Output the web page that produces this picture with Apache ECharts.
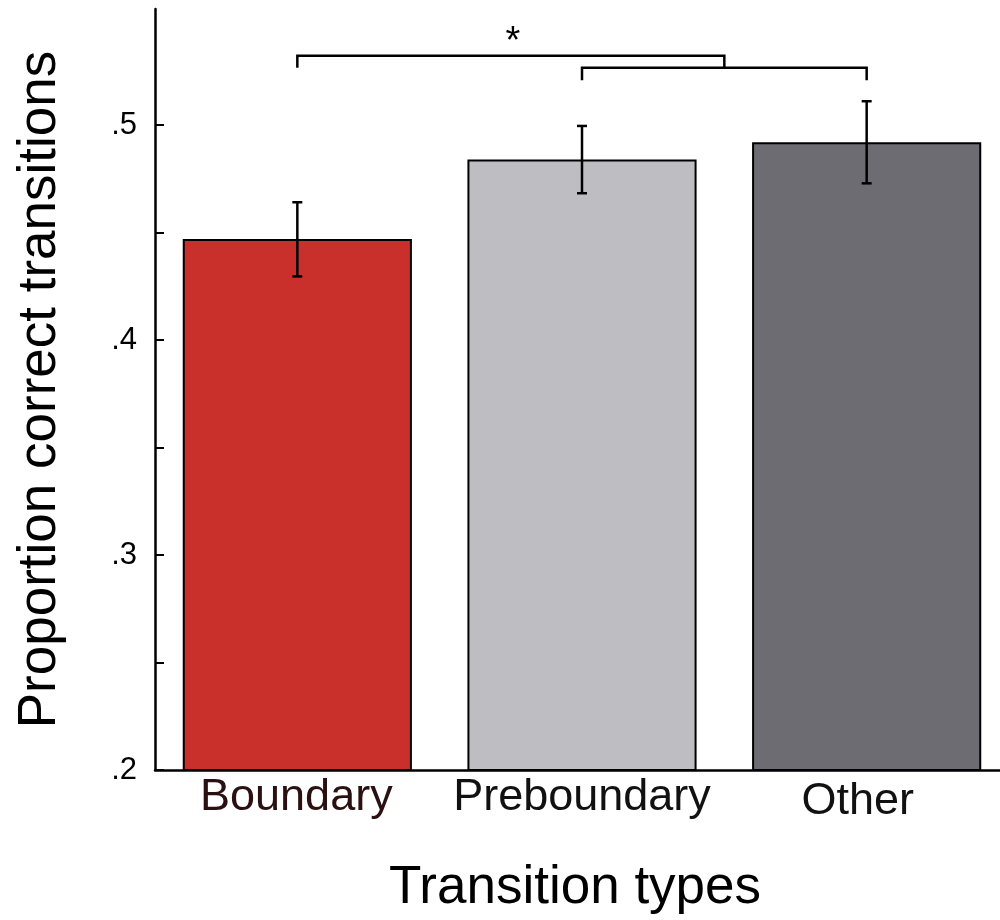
<!DOCTYPE html>
<html>
<head>
<meta charset="utf-8">
<script src="https://cdn.jsdelivr.net/npm/echarts@6/dist/echarts.min.js"></script>
<style>
html,body{margin:0;padding:0;background:#fff;overflow:hidden;}
#chart{width:1012px;height:920px;}
</style>
</head>
<body>
<div id="chart"></div>
<script>
// ---- data ----
const categories = ['Boundary', 'Preboundary', 'Other'];
const means = [0.447, 0.484, 0.492];
const errLow = [0.4296, 0.4683, 0.4729];
const errHigh = [0.4641, 0.4996, 0.5111];
const barColors = ['#c92f2b', '#bebdc2', '#6d6c72'];
const labelColors = ['#2a1010', '#111111', '#111111'];
const yTickValues = [0.2, 0.25, 0.3, 0.35, 0.4, 0.45, 0.5];
const yLabelValues = [0.2, 0.3, 0.4, 0.5];
// significance bracket levels (in data units)
const sigTop = 0.5322;
const sigMid = 0.5267;
const sigLeg = 0.5208;
const sigStar = 0.5415;
const sigText = '*';

const FONT = "'Liberation Sans', Arial, Helvetica, sans-serif";
// per-label padding (layout only)
const labelPads = [[0, 2, 0, 0], [0, 0, 0, 0], [4, 18, 0, 0]];

const chart = echarts.init(document.getElementById('chart'), null, {renderer: 'canvas'});

const option = {
  backgroundColor: '#ffffff',
  animation: false,
  grid: {left: 155, width: 854, top: 9, height: 769, containLabel: false},
  xAxis: {
    type: 'category',
    data: categories.map((c, i) => ({value: c, textStyle: {color: labelColors[i], padding: labelPads[i]}})),
    name: 'Transition types',
    nameLocation: 'middle',
    nameGap: 92,
    nameTextStyle: {fontFamily: FONT, fontSize: 53, color: '#000', padding: [0, 14, 0, 0]},
    axisLine: {show: true, lineStyle: {color: '#000', width: 2.5}},
    axisTick: {show: false},
    axisLabel: {
      interval: 0,
      margin: 5,
      fontFamily: FONT,
      fontSize: 45,
      color: '#111'
    },
    splitLine: {show: false}
  },
  yAxis: {
    type: 'value',
    min: 0.2,
    max: 0.554,
    name: 'Proportion correct transitions',
    nameLocation: 'middle',
    nameGap: 88,
    nameTextStyle: {fontFamily: FONT, fontSize: 53, color: '#000'},
    axisLine: {show: true, lineStyle: {color: '#000', width: 2.5}},
    axisTick: {show: true, inside: true, length: 9, lineStyle: {color: '#000', width: 2}, customValues: yTickValues},
    axisLabel: {
      margin: 18,
      fontFamily: FONT,
      fontSize: 31,
      color: '#000',
      customValues: yLabelValues,
      formatter: function (v) { return String(Math.round(v * 10) / 10).replace(/^0/, ''); }
    },
    splitLine: {show: false}
  },
  series: [
    {
      type: 'bar',
      barWidth: '80.5%',
      data: means.map((m, i) => ({
        value: m,
        itemStyle: {color: barColors[i], borderColor: '#000', borderWidth: 2}
      })),
      z: 2
    },
    {
      type: 'custom',
      z: 5,
      data: categories.map((c, i) => [i, errLow[i], errHigh[i]]),
      renderItem: function (params, api) {
        const lo = api.coord([api.value(0), api.value(1)]);
        const hi = api.coord([api.value(0), api.value(2)]);
        const hw = 5;
        const st = {stroke: '#000', lineWidth: 2.5};
        return {
          type: 'group',
          children: [
            {type: 'line', shape: {x1: hi[0], y1: hi[1], x2: lo[0], y2: lo[1]}, style: st},
            {type: 'line', shape: {x1: hi[0] - hw, y1: hi[1], x2: hi[0] + hw, y2: hi[1]}, style: st},
            {type: 'line', shape: {x1: lo[0] - hw, y1: lo[1], x2: lo[0] + hw, y2: lo[1]}, style: st}
          ]
        };
      }
    },
    {
      type: 'custom',
      z: 5,
      data: [[0, 1, 2]],
      renderItem: function (params, api) {
        const a = api.coord([api.value(0), sigTop]);
        const aLeg = api.coord([api.value(0), sigMid]);
        const b = api.coord([api.value(1), sigMid]);
        const bLeg = api.coord([api.value(1), sigLeg]);
        const c = api.coord([api.value(2), sigMid]);
        const cLeg = api.coord([api.value(2), sigLeg]);
        const midX = (b[0] + c[0]) / 2;
        const topY = a[1];
        const starPt = api.coord([api.value(0), sigStar]);
        const starX = (a[0] + midX) / 2 + 2;
        const st = {stroke: '#000', lineWidth: 2.5, fill: null};
        return {
          type: 'group',
          children: [
            {type: 'polyline', shape: {points: [[a[0], aLeg[1]], [a[0], topY], [midX, topY], [midX, b[1]]]}, style: st},
            {type: 'polyline', shape: {points: [[b[0], bLeg[1]], [b[0], b[1]], [c[0], c[1]], [c[0], cLeg[1]]]}, style: st},
            {type: 'text', style: {text: sigText, x: starX, y: starPt[1] + 7, align: 'center', verticalAlign: 'middle', font: '38px ' + FONT, fill: '#000'}}
          ]
        };
      }
    }
  ]
};
chart.setOption(option);
</script>
</body>
</html>
